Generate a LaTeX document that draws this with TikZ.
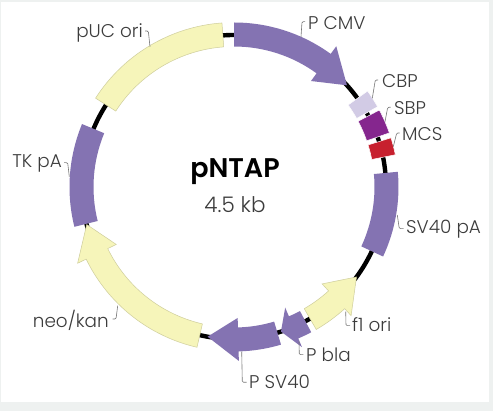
\documentclass[tikz,border=0pt]{standalone}
\usepackage{fontspec}
\setmainfont{Poppins}[UprightFont=*-Light,BoldFont=*-SemiBold]
\definecolor{pagegrey}{HTML}{EEF1F0}
\definecolor{purpleband}{HTML}{8473B2}
\definecolor{yellowband}{HTML}{F6F5BA}
\definecolor{yellowedge}{HTML}{CFCE9C}
\definecolor{cbpcol}{HTML}{D2CBE5}
\definecolor{sbpcol}{HTML}{85268E}
\definecolor{mcscol}{HTML}{C7202E}
\definecolor{labelcol}{HTML}{3C3C3C}
\definecolor{leadercol}{HTML}{777777}
\tikzset{
  purplepart/.style={fill=purpleband,draw=none},
  yellowpart/.style={fill=yellowband,draw=yellowedge,line width=0.5pt},
  smallpart/.style={fill=#1,draw=white,line width=0.5pt},
  leaderline/.style={draw=leadercol,line width=0.6pt,rounded corners=1.2pt},
  partlabel/.style={text=labelcol,font=\fontsize{18.4}{21}\selectfont,inner sep=0pt},
}
% #1 style, #2 start angle, #3 end angle
\newcommand{\bandrect}[3]{\path[#1] ($(O)+(#2:140.5pt)$) arc[start angle=#2,end angle=#3,radius=140.5pt]
  -- ($(O)+(#3:164.5pt)$) arc[start angle=#3,end angle=#2,radius=164.5pt] -- cycle;}
% #1 style, #2 start angle, #3 head base angle, #4 tip angle
\newcommand{\bandarrow}[4]{\path[#1] ($(O)+(#2:140.5pt)$) arc[start angle=#2,end angle=#3,radius=140.5pt]
  -- ($(O)+(#3:131pt)$) -- ($(O)+(#4:152pt)$) -- ($(O)+(#3:174pt)$) -- ($(O)+(#3:164.5pt)$)
  arc[start angle=#3,end angle=#2,radius=164.5pt] -- cycle;}
\usetikzlibrary{calc}
\begin{document}
\begin{tikzpicture}[x=1pt,y=1pt]
\useasboundingbox (0,0) rectangle (493,-411);
\fill[pagegrey] (0,0) rectangle (493,-411);
\fill[white] (1,-2) rectangle (488.5,-402);
\coordinate (O) at (234,-187);
\draw[black,line width=4.4pt] (O) circle[radius=152pt];
\bandarrow{purplepart}{90}{54}{42}
\bandrect{smallpart=cbpcol}{29.2}{35.7}
\bandrect{smallpart=sbpcol}{19.2}{27.9}
\bandrect{smallpart=mcscol}{11.3}{17.4}
\bandrect{purplepart}{-25}{5.3}
\bandarrow{yellowpart}{-60}{-47.7}{-36.3}
\bandarrow{purplepart}{-62}{-67}{-72}
\bandarrow{purplepart}{-73.4}{-88.4}{-100}
\bandarrow{yellowpart}{257}{206}{194.3}
\bandrect{purplepart}{157.5}{194}
\bandrect{yellowpart}{94.2}{147.3}
\node[font=\fontsize{27}{30}\selectfont\bfseries,text=black,inner sep=0pt] (title) at (235,-172) {pNTAP};
\node[font=\fontsize{21.5}{24}\selectfont,text=labelcol,inner sep=0pt] (size) at (235,-205) {4.5 kb};
\node[partlabel,anchor=west] (lcmv) at (308,-23) {P CMV};
\node[partlabel,anchor=west] (lcbp) at (382,-81) {CBP};
\node[partlabel,anchor=west] (lsbp) at (394,-108) {SBP};
\node[partlabel,anchor=west] (lmcs) at (402,-134) {MCS};
\node[partlabel,anchor=west] (lsvpa) at (406,-229) {SV40 pA};
\node[partlabel,anchor=west] (lfone) at (352,-325) {f1 ori};
\node[partlabel,anchor=west] (lbla) at (306,-355) {P bla};
\node[partlabel,anchor=west] (lsv) at (249,-382) {P SV40};
\node[partlabel,anchor=east] (lneo) at (109,-320) {neo/kan};
\node[partlabel,anchor=east] (ltk) at (62,-163) {TK pA};
\node[partlabel,anchor=east] (lpuc) at (143,-33) {pUC ori};
\coordinate (a1) at (301,-37);   \coordinate (b1) at (302,-21.7);  \coordinate (c1) at (305,-21.7);
\coordinate (a2) at (372.3,-98.3); \coordinate (b2) at (375.3,-80); \coordinate (c2) at (378,-80);
\coordinate (a3) at (385,-121.7); \coordinate (b3) at (387.7,-107.3); \coordinate (c3) at (390.5,-107.3);
\coordinate (a4) at (393.3,-146.7); \coordinate (b4) at (396.7,-133); \coordinate (c4) at (399.5,-133);
\coordinate (a5) at (397.3,-215); \coordinate (b5) at (399.3,-228.7); \coordinate (c5) at (403.5,-228.7);
\coordinate (a6) at (345.7,-311.7); \coordinate (b6) at (346,-325.7); \coordinate (c6) at (350,-325.7);
\coordinate (a7) at (299,-341.7); \coordinate (b7) at (299.3,-354.7); \coordinate (c7) at (303.3,-354.7);
\coordinate (a8) at (241.7,-351.7); \coordinate (b8) at (242.3,-382.3); \coordinate (c8) at (246.7,-382.3);
\coordinate (a9) at (117.7,-305.7); \coordinate (b9) at (116,-319); \coordinate (c9) at (112.7,-319);
\coordinate (a10) at (69.3,-176.7); \coordinate (b10) at (67.7,-162.7); \coordinate (c10) at (64,-162.7);
\coordinate (a11) at (150,-46.7); \coordinate (b11) at (148.3,-31); \coordinate (c11) at (145,-31);
\foreach \i in {1,...,11} \draw[leaderline] (a\i) -- (b\i) -- (c\i);
\end{tikzpicture}
\end{document}
